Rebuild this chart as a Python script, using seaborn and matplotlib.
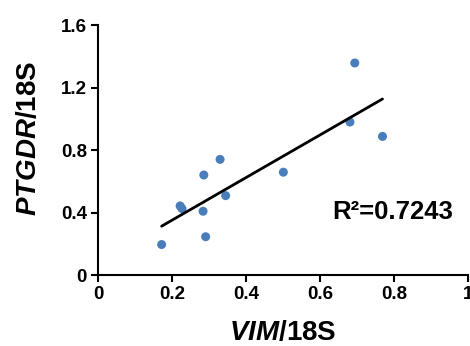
import pandas as pd
import seaborn as sns
import matplotlib.pyplot as plt

# Data
vim = [0.172, 0.222, 0.227, 0.286, 0.284, 0.291, 0.330, 0.345, 0.501, 0.681, 0.694, 0.769]
ptgdr = [0.195, 0.442, 0.425, 0.640, 0.408, 0.245, 0.740, 0.508, 0.658, 0.979, 1.357, 0.887]
r2_label = "R²=0.7243"
x_ticks = [0, 0.2, 0.4, 0.6, 0.8, 1]
x_ticklabels = ["0", "0.2", "0.4", "0.6", "0.8", "1"]
y_ticks = [0, 0.4, 0.8, 1.2, 1.6]
y_ticklabels = ["0", "0.4", "0.8", "1.2", "1.6"]

df = pd.DataFrame({"vim": vim, "ptgdr": ptgdr})

sns.set_theme(style="ticks")
plt.rcParams['font.family'] = ['Liberation Sans', 'DejaVu Sans']
plt.rcParams['font.weight'] = 'bold'
plt.rcParams['text.color'] = 'black'
plt.rcParams['axes.labelcolor'] = 'black'
plt.rcParams['xtick.color'] = 'black'
plt.rcParams['ytick.color'] = 'black'
plt.rcParams['mathtext.fontset'] = 'custom'
plt.rcParams['mathtext.it'] = 'Liberation Sans:italic:bold'
plt.rcParams['mathtext.rm'] = 'Liberation Sans:bold'
plt.rcParams['mathtext.bf'] = 'Liberation Sans:bold'

fig = plt.figure(figsize=(4.7, 3.46), dpi=100)
ax = fig.add_axes([0.2085, 0.2052, 0.7872, 0.7225])

sns.regplot(data=df, x="vim", y="ptgdr", ci=None, ax=ax,
            scatter_kws=dict(s=42, color="#4a7ebb", edgecolor="none", alpha=1),
            line_kws=dict(color="black", lw=2))

ax.set_xlim(0, 1)
ax.set_ylim(0, 1.6)
ax.set_xticks(x_ticks)
ax.set_xticklabels(x_ticklabels, fontweight="bold")
ax.set_yticks(y_ticks)
ax.set_yticklabels(y_ticklabels, fontweight="bold")
ax.tick_params(axis="both", direction="out", length=5, width=1.5,
               labelsize=13.5, pad=3)
for side in ["top", "right"]:
    ax.spines[side].set_visible(False)
for side in ["left", "bottom"]:
    ax.spines[side].set_linewidth(1.5)
    ax.spines[side].set_color("black")

ax.set_xlabel("$\\mathit{VIM}$/18S", fontsize=20, fontweight="bold", labelpad=12.5)
ax.set_ylabel("$\\mathit{PTGDR}$/18S", fontsize=20, fontweight="bold")
ax.yaxis.set_label_coords(-0.151, 0.546)

ax.text(0.632, 0.405, r2_label, fontsize=18.5, fontweight="bold", va="center", ha="left")

fig.savefig("out.png", dpi=100)
